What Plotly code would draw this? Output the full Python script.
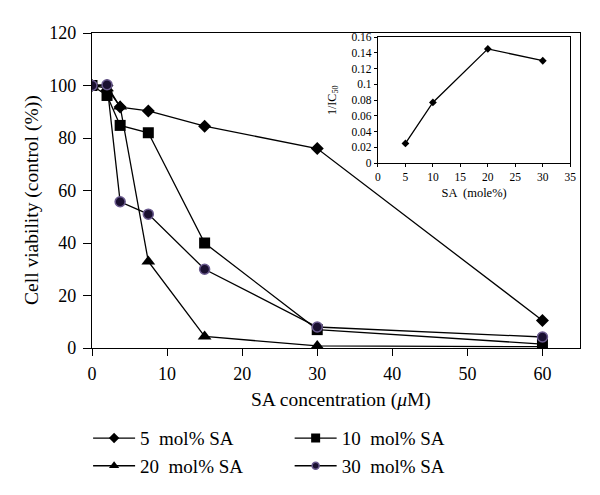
import plotly.graph_objects as go

conc = [0, 2, 3.75, 7.5, 15, 30, 60]
sa5 = [100, 100, 91.8, 90.3, 84.5, 76, 10.5]
sa10 = [100, 96.2, 84.8, 82, 40, 7, 1.5]
sa20 = [100, 99, 92, 33, 4.4, 0.8, 0.5]
sa30 = [100, 100.3, 55.7, 51, 30, 8, 4.2]

inset_x = [5, 10, 20, 30]
inset_y = [0.025, 0.077, 0.145, 0.13]

FONT = "Liberation Serif"
fig = go.Figure()

def add(name, y, symbol, size, lsize, legend, line_col="black", mline=0, mcol="black"):
    marker = dict(symbol=symbol, size=size, color=mcol, line=dict(color=line_col, width=mline))
    fig.add_trace(go.Scatter(
        x=conc, y=y, mode="lines+markers", name=name, showlegend=False,
        line=dict(color="black", width=1.3), marker=marker,
    ))
    lmarker = dict(marker, size=lsize)
    fig.add_trace(go.Scatter(
        x=[None], y=[None], mode="lines+markers", name=name, legend=legend,
        line=dict(color="black", width=1.3), marker=lmarker,
    ))

add("5  mol% SA", sa5, "diamond", 10, 8, "legend")
add("20  mol% SA", sa20, "triangle-up", 12, 9, "legend")
add("10  mol% SA", sa10, "square", 11, 9, "legend2")
add("30  mol% SA", sa30, "circle", 10, 7, "legend2", line_col="#6a5a8e", mline=1.5, mcol="#1a1030")

fig.add_trace(go.Scatter(
    x=inset_x, y=inset_y, mode="lines+markers", xaxis="x2", yaxis="y2",
    showlegend=False, line=dict(color="black", width=1.3),
    marker=dict(symbol="diamond", size=6, color="black"),
))

axis_common = dict(showline=True, linecolor="black", linewidth=1.3, mirror=True,
                   ticks="outside", tickcolor="black", showgrid=False, zeroline=False)

legfont = dict(family=FONT, size=19, color="black")

fig.update_layout(
    width=600, height=495,
    margin=dict(l=84, r=28, t=25, b=155, autoexpand=False),
    paper_bgcolor="white", plot_bgcolor="white",
    font=dict(family=FONT, color="black", size=18),
    xaxis=dict(range=[0, 65], tickvals=[0, 10, 20, 30, 40, 50, 60], ticklen=7,
               ticklabelstandoff=2, tickfont=dict(family=FONT, size=18), **axis_common),
    yaxis=dict(range=[0, 120], tickvals=[0, 20, 40, 60, 80, 100, 120], ticklen=8,
               ticklabelstandoff=3, tickfont=dict(family=FONT, size=18), **axis_common),
    xaxis2=dict(domain=[0.586, 0.980], anchor="y2", range=[0, 35], dtick=5, ticklen=3,
                tickfont=dict(family=FONT, size=11.5),
                title=dict(text="SA  (mole%)", font=dict(family=FONT, size=12.5), standoff=6),
                **axis_common),
    yaxis2=dict(domain=[0.587, 0.987], anchor="x2", range=[0, 0.16], dtick=0.02, ticklen=3,
                tickfont=dict(family=FONT, size=11.5), tickformat="~g",
                title=dict(text="1/IC<sub>50</sub>", font=dict(family=FONT, size=12), standoff=12),
                **axis_common),
    legend=dict(x=-0.008, y=-0.226, xanchor="left", yanchor="top", bgcolor="rgba(0,0,0,0)",
                font=legfont, tracegroupgap=0, itemwidth=42),
    legend2=dict(x=0.405, y=-0.226, xanchor="left", yanchor="top", bgcolor="rgba(0,0,0,0)",
                 font=legfont, tracegroupgap=0, itemwidth=42),
    annotations=[
        dict(text="SA concentration (<i>μ</i>M)", xref="paper", yref="paper",
             x=0.51, y=-0.165, xanchor="center", yanchor="middle", showarrow=False,
             font=dict(family=FONT, size=19.5)),
        dict(text="Cell viability (control (%))", xref="paper", yref="paper",
             x=-0.123, y=0.47, xanchor="center", yanchor="middle", showarrow=False,
             textangle=-90, font=dict(family=FONT, size=19.5)),
    ],
)

fig.write_html("out.html")
